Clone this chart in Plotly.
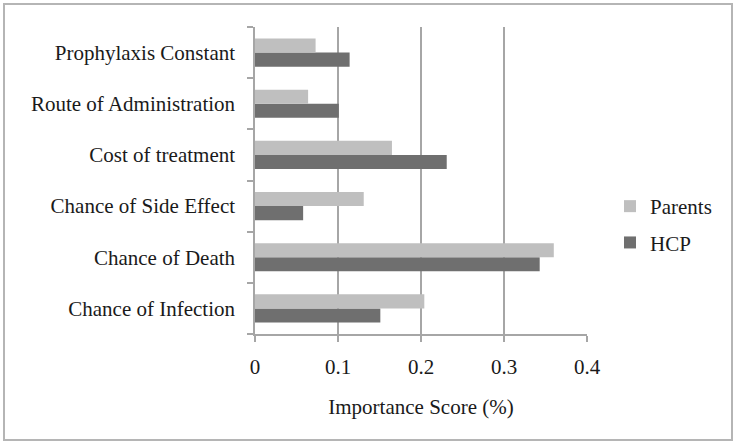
import plotly.graph_objects as go

categories = ["Chance of Infection", "Chance of Death", "Chance of Side Effect",
              "Cost of treatment", "Route of Administration", "Prophylaxis Constant"]
parents = [0.204, 0.360, 0.131, 0.165, 0.064, 0.073]
hcp = [0.151, 0.343, 0.058, 0.231, 0.101, 0.114]
x_ticks = [0, 0.1, 0.2, 0.3, 0.4]
x_tick_labels = ["0", "0.1", "0.2", "0.3", "0.4"]

W, H = 738, 446
L, R, T, B = 255, 151, 27, 112
FONT = "Liberation Serif"
FS = 21
TXT = "#1a1a1a"
pw, ph = W - L - R, H - T - B

fig = go.Figure()
fig.add_trace(go.Bar(y=categories, x=hcp, name="HCP", orientation="h",
                     marker=dict(color="#6f6f6f", line=dict(width=0)),
                     legendgroup="b", legendrank=2))
fig.add_trace(go.Bar(y=categories, x=parents, name="Parents", orientation="h",
                     marker=dict(color="#bfbfbf", line=dict(width=0)),
                     legendgroup="a", legendrank=1))

def px_x(p):
    return (p - L) / pw

def px_y(p):
    return (H - B - p) / ph

fig.update_layout(
    width=W, height=H,
    margin=dict(l=L, r=R, t=T, b=B, pad=0),
    paper_bgcolor="white", plot_bgcolor="white",
    barmode="group", bargap=0.45, bargroupgap=0.0,
    font=dict(family=FONT, size=FS, color=TXT),
    showlegend=True,
    legend=dict(x=px_x(610), y=px_y(224.5), xanchor="left", yanchor="middle",
                traceorder="grouped", tracegroupgap=6,
                font=dict(family=FONT, size=FS, color=TXT),
                bgcolor="rgba(0,0,0,0)"),
    xaxis=dict(range=[0, 0.4], tickvals=x_ticks, ticktext=x_tick_labels,
               showgrid=True, gridcolor="#a6a6a6", gridwidth=1.5,
               zeroline=False, showline=True, linecolor="#a6a6a6", linewidth=1.5,
               ticks="outside", ticklen=6, tickcolor="#a6a6a6", tickwidth=1.5,
               ticklabelstandoff=7,
               title=dict(text="Importance Score (%)", standoff=21,
                          font=dict(family=FONT, size=FS, color=TXT))),
    yaxis=dict(type="category", categoryorder="array", categoryarray=categories,
               showgrid=False, zeroline=False, showline=True,
               linecolor="#a6a6a6", linewidth=1.5,
               ticks="outside", tickson="boundaries", ticklen=6,
               tickcolor="#a6a6a6", tickwidth=1.5, ticklabelstandoff=14),
    shapes=[dict(type="rect", xref="paper", yref="paper",
                 x0=px_x(4), x1=px_x(732), y0=px_y(440), y1=px_y(4),
                 line=dict(color="#b5b5b5", width=2), layer="below")],
)

fig.write_html("out.html", config={"displayModeBar": False},
               post_script="document.body.style.margin='0';")
